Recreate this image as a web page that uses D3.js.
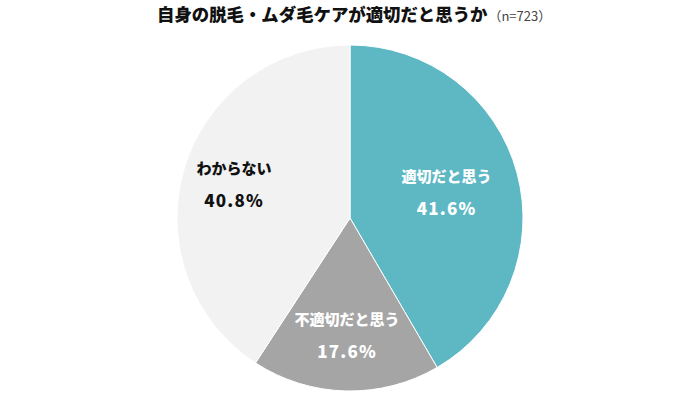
<!DOCTYPE html>
<html>
<head>
<meta charset="utf-8">
<script src="https://cdn.jsdelivr.net/npm/d3@7"></script>
<style>
  body { margin: 0; background: #fff; }
  svg { display: block; font-family: "Noto Sans CJK JP", "Noto Sans", sans-serif; }
</style>
</head>
<body>
<svg id="svg" width="700" height="393"></svg>
<script>
// answers, clockwise from 12 o'clock
let categories = ["適切だと思う", "不適切だと思う", "わからない"];
let shares = [41.6, 17.6, 40.8];
let sliceColors = ["#5db8c4", "#a5a5a5", "#f2f2f2"];
let labelColors = ["#ffffff", "#ffffff", "#111111"];

let titleText = "自身の脱毛・ムダ毛ケアが適切だと思うか";
let sampleText = "（n=723）";

let svg = d3.select("#svg");
const cx = 350, cy = 218, radius = 173;

function drawTitle() {
    let t = svg.append("text")
        .attr("x", 157)
        .attr("y", 21);
    t.append("tspan")
        .style("font-size", "17.4px")
        .style("font-weight", "900")
        .attr("fill", "#111")
        .text(titleText);
    t.append("tspan")
        .attr("dx", 1)
        .style("font-size", "13px")
        .attr("fill", "#444")
        .text(sampleText);
}

function drawPie() {
    let data = categories.map((c, i) => ({ name: c, value: shares[i], i: i }));

    let pie = d3.pie()
        .sort(null)
        .value(d => d.value);

    let arc = d3.arc()
        .innerRadius(0)
        .outerRadius(radius);

    let g = svg.append("g")
        .attr("transform", `translate(${cx},${cy})`);

    let arcs = pie(data);

    g.selectAll(".slice")
        .data(arcs)
        .enter().append("path")
        .attr("class", "slice")
        .attr("d", arc)
        .attr("fill", d => sliceColors[d.data.i])
        .attr("stroke", "#fff")
        .attr("stroke-width", 1);

    // labels sit a little inside the mid radius, nudged per slice
    let labelRadius = [100, 117, 121];
    let labels = g.selectAll(".label")
        .data(arcs)
        .enter().append("text")
        .attr("class", "label")
        .attr("text-anchor", "middle")
        .attr("fill", d => labelColors[d.data.i])
        .style("font-weight", "900")
        .style("font-size", "15px")
        .attr("transform", d => {
            let a = (d.startAngle + d.endAngle) / 2;
            let r = labelRadius[d.data.i];
            return `translate(${r * Math.sin(a)},${-r * Math.cos(a)})`;
        });

    labels.append("tspan")
        .attr("x", 0)
        .attr("y", -10)
        .text(d => d.data.name);

    labels.append("tspan")
        .attr("x", 0)
        .attr("y", 23)
        .style("font-size", "17px")
        .style("letter-spacing", "1.2px")
        .text(d => d.data.value.toFixed(1) + "%");
}

drawTitle();
drawPie();
</script>
</body>
</html>
